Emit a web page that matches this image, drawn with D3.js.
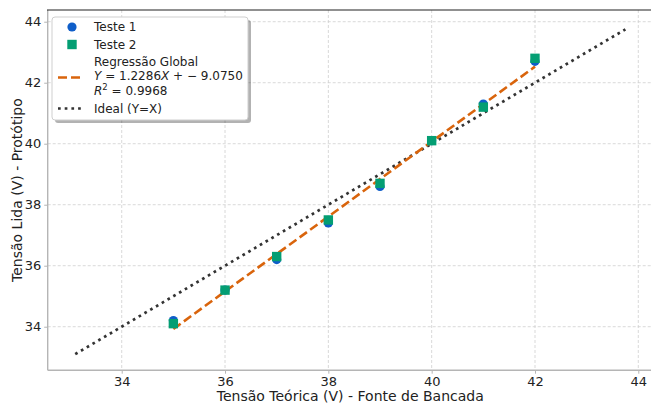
<!DOCTYPE html>
<html><head><meta charset="utf-8">
<script src="https://cdn.jsdelivr.net/npm/d3@7"></script>
<style>body{margin:0;background:#fff}svg{font-family:"DejaVu Sans",sans-serif}</style>
</head><body><svg id="c" width="651" height="403"></svg>
<script>
const xTheoretical = [35, 36, 37, 38, 39, 40, 41, 42];
const teste1 = [34.2, 35.2, 36.2, 37.4, 38.6, 40.1, 41.3, 42.7];
const teste2 = [34.1, 35.2, 36.3, 37.5, 38.7, 40.1, 41.2, 42.8];
const regSlope = 1.2286, regIntercept = -9.0750, regR2 = 0.9968;
const regRange = [35, 42];
const idealRange = [33.1, 43.75];
const xTicks = [34, 36, 38, 40, 42, 44];
const yTicks = [34, 36, 38, 40, 42, 44];
const xDomain = [32.5675, 44.2825];
const yDomain = [32.574, 44.384];

const svg = d3.select("#c");
const L = 47.7, R = 652.9, T = 10, B = 370.2;
const x = d3.scaleLinear().domain(xDomain).range([L, R]);
const y = d3.scaleLinear().domain(yDomain).range([B, T]);

// grid
const g = svg.append("g");
g.selectAll(".gx").data(xTicks).join("line")
  .attr("x1", d => x(d)).attr("x2", d => x(d)).attr("y1", T).attr("y2", B)
  .attr("stroke", "#cfcfcf").attr("stroke-width", 0.8).attr("stroke-dasharray", "3,2");
g.selectAll(".gy").data(yTicks).join("line")
  .attr("y1", d => y(d)).attr("y2", d => y(d)).attr("x1", L).attr("x2", R)
  .attr("stroke", "#cfcfcf").attr("stroke-width", 0.8).attr("stroke-dasharray", "3,2");

// axes
const ax = svg.append("g").attr("transform", `translate(0,${B})`)
  .call(d3.axisBottom(x).tickValues(xTicks).tickFormat(d3.format("d")).tickSize(3.5).tickPadding(3));
const ay = svg.append("g").attr("transform", `translate(${L},0)`)
  .call(d3.axisLeft(y).tickValues(yTicks).tickFormat(d3.format("d")).tickSize(3.5).tickPadding(3));
[ax, ay].forEach(a => {
  a.select(".domain").attr("stroke", "#b5b5b5").attr("stroke-width", 1.4);
  a.selectAll(".tick line").attr("stroke", "#b5b5b5").attr("stroke-width", 1);
  a.selectAll(".tick text").attr("fill", "#222").style("font-size", "13px").style("font-family", "DejaVu Sans");
});
ax.select(".domain").attr("d", `M${L},0H${R}`);
ay.select(".domain").attr("d", `M0,${B}V${T}`);
svg.append("line").attr("x1", L - 0.7).attr("x2", 651).attr("y1", T).attr("y2", T)
  .attr("stroke", "#222").attr("stroke-width", 1.2);

// ideal line
svg.append("line")
  .attr("x1", x(idealRange[0])).attr("y1", y(idealRange[0]))
  .attr("x2", x(idealRange[1])).attr("y2", y(idealRange[1]))
  .attr("stroke", "#333").attr("stroke-width", 2.7).attr("stroke-dasharray", "2.7,4");
// regression line
svg.append("line")
  .attr("x1", x(regRange[0])).attr("y1", y(regSlope * regRange[0] + regIntercept))
  .attr("x2", x(regRange[1])).attr("y2", y(regSlope * regRange[1] + regIntercept))
  .attr("stroke", "#d9640c").attr("stroke-width", 2.6).attr("stroke-dasharray", "9,4");

const blue = "#0f5ec9", green = "#049e73";
svg.selectAll(".c1").data(xTheoretical).join("circle")
  .attr("cx", d => x(d)).attr("cy", (d, i) => y(teste1[i])).attr("r", 4.6).attr("fill", blue);
svg.selectAll(".s2").data(xTheoretical).join("rect")
  .attr("x", d => x(d) - 4.7).attr("y", (d, i) => y(teste2[i]) - 4.7)
  .attr("width", 9.4).attr("height", 9.4).attr("fill", green);

// labels
svg.append("text").attr("x", (L + R) / 2).attr("y", 400.5).attr("text-anchor", "middle")
  .attr("fill", "#222").style("font-size", "14px").text("Tensão Teórica (V) - Fonte de Bancada");
svg.append("text").attr("transform", `translate(22,${(T + B) / 2}) rotate(-90)`).attr("text-anchor", "middle")
  .attr("fill", "#222").style("font-size", "14px").text("Tensão Lida (V) - Protótipo");

// legend
const lg = svg.append("g");
const lx = 52, ly = 17, lw = 196, lh = 103;
lg.append("rect").attr("x", lx + 3).attr("y", ly + 3).attr("width", lw).attr("height", lh)
  .attr("rx", 3).attr("fill", "#000").attr("opacity", 0.3);
lg.append("rect").attr("x", lx).attr("y", ly).attr("width", lw).attr("height", lh)
  .attr("rx", 3).attr("fill", "#fff").attr("stroke", "#cfcfcf").attr("stroke-width", 1);
const tx = 94, fs = "12px";
lg.append("circle").attr("cx", 72).attr("cy", 27).attr("r", 4.6).attr("fill", blue);
lg.append("text").attr("x", tx).attr("y", 31).style("font-size", fs).attr("fill", "#222").text("Teste 1");
lg.append("rect").attr("x", 72 - 4.7).attr("y", 44.5 - 4.7).attr("width", 9.4).attr("height", 9.4).attr("fill", green);
lg.append("text").attr("x", tx).attr("y", 48.5).style("font-size", fs).attr("fill", "#222").text("Teste 2");
lg.append("line").attr("x1", 58).attr("x2", 84).attr("y1", 77.5).attr("y2", 77.5)
  .attr("stroke", "#d9640c").attr("stroke-width", 2.6).attr("stroke-dasharray", "9,4");
lg.append("text").attr("x", tx).attr("y", 66).style("font-size", fs).attr("fill", "#222").text("Regressão Global");
const eq = lg.append("text").attr("x", tx).attr("y", 80).style("font-size", fs).attr("fill", "#222")
  .attr("xml:space", "preserve");
eq.append("tspan").style("font-style", "italic").text("Y");
eq.append("tspan").text(" = " + regSlope.toFixed(4));
eq.append("tspan").style("font-style", "italic").text("X");
eq.append("tspan").text(" + − " + Math.abs(regIntercept).toFixed(4));
const r2t = lg.append("text").attr("x", tx).attr("y", 94.5).style("font-size", fs).attr("fill", "#222");
r2t.append("tspan").style("font-style", "italic").text("R");
r2t.append("tspan").attr("dy", -4.5).style("font-size", "8.5px").text("2");
r2t.append("tspan").attr("dy", 4.5).text(" = " + regR2.toFixed(4));
lg.append("line").attr("x1", 58).attr("x2", 84).attr("y1", 108.5).attr("y2", 108.5)
  .attr("stroke", "#333").attr("stroke-width", 2.7).attr("stroke-dasharray", "2.7,4");
lg.append("text").attr("x", tx).attr("y", 112.5).style("font-size", fs).attr("fill", "#222").text("Ideal (Y=X)");
</script></body></html>
